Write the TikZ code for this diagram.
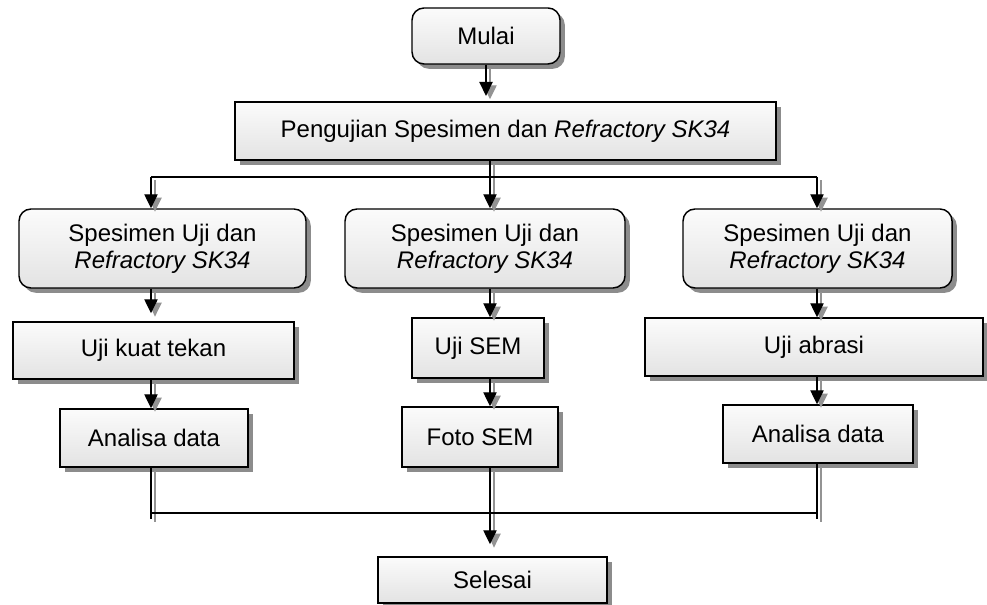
\documentclass[tikz,border=0pt]{standalone}
\usepackage{fontspec}
\setmainfont{Liberation Sans}
\usetikzlibrary{arrows.meta,shadows,calc}
\begin{document}
\begin{tikzpicture}[x=0.75pt,y=-0.75pt,
  box/.style={draw=black, line width=1.1pt, top color=gray!3, bottom color=gray!22,
    drop shadow={shadow xshift=3.6pt, shadow yshift=-3.6pt, fill=gray!90, opacity=1},
    align=center, inner sep=0pt, font=\fontsize{18}{20.5}\selectfont},
  rbox/.style={box, rounded corners=9pt},
  link/.style={line width=1pt, draw=black},
  flat/.style={link},
  rail/.style={link},
  flow/.style={link, -{Triangle[length=10.5pt,width=10pt]}}
]
\useasboundingbox (0,0) rectangle (987,605);

% boxes
\node[rbox, minimum width=111pt, minimum height=42pt] (mulai) at (486,36) {Mulai};
\node[box, minimum width=405.75pt, minimum height=43.5pt] (peng) at (505.5,131) {Pengujian Spesimen dan \textit{Refractory SK34}};

\node[rbox, minimum width=215.25pt, minimum height=59.25pt] (s1) at (162.5,248.5) {Spesimen Uji dan\\\textit{Refractory SK34}};
\node[rbox, minimum width=210pt, minimum height=59.25pt] (s2) at (485,248.5) {Spesimen Uji dan\\\textit{Refractory SK34}};
\node[rbox, minimum width=201.75pt, minimum height=59.25pt] (s3) at (817.5,248.5) {Spesimen Uji dan\\\textit{Refractory SK34}};

\node[box, minimum width=210.75pt, minimum height=42.75pt] (kuat) at (153.5,350.5) {Uji kuat tekan};
\node[box, minimum width=99pt, minimum height=45pt] (sem) at (478,348) {Uji SEM};
\node[box, minimum width=253.5pt, minimum height=43.5pt] (abrasi) at (814,347) {Uji abrasi};

\node[box, minimum width=141pt, minimum height=43.5pt] (ana1) at (154,438) {Analisa data};
\node[box, minimum width=117pt, minimum height=45pt] (foto) at (480,437) {Foto SEM};
\node[box, minimum width=142.5pt, minimum height=43.5pt] (ana2) at (818,434) {Analisa data};

\node[box, minimum width=171.75pt, minimum height=34.5pt] (selesai) at (492.5,580) {Selesai};

% junction points
\coordinate (cL) at (151,177);
\coordinate (cM) at (490,177);
\coordinate (cR) at (817,177);
\coordinate (bL) at (151,513);
\coordinate (bM) at (490,513);
\coordinate (bR) at (817,513);

% all connectors, drawn once as a grey shadow and once in black
\newcommand\flowlinks{%
  \draw[flow, shorten >=4pt] (mulai.south) -- (peng.north -| mulai.south);
  \draw[rail] (peng.south -| cM) -- (cM);
  \draw[flat] (cL) -- (cR);
  \draw[flow] (cL) -- (s1.north -| cL);
  \draw[flow] (cM) -- (s2.north -| cM);
  \draw[flow] (cR) -- (s3.north -| cR);
  \draw[flow, shorten >=6pt] (s1.south -| cL) -- (kuat.north -| cL);
  \draw[flow] (kuat.south -| cL) -- (ana1.north -| cL);
  \draw[flow] (s2.south -| cM) -- (sem.north -| cM);
  \draw[flow] (sem.south -| cM) -- (foto.north -| cM);
  \draw[flow] (s3.south -| cR) -- (abrasi.north -| cR);
  \draw[flow] (abrasi.south -| cR) -- (ana2.north -| cR);
  \draw[rail] (ana1.south -| bL) -- ($(bL)+(0,6)$);
  \draw[rail] (ana2.south -| bR) -- ($(bR)+(0,6)$);
  \draw[flat] (bL) -- (bR);
  \draw[flow, shorten >=9pt] (foto.south -| bM) -- (selesai.north -| bM);
}
\begin{scope}[transform canvas={xshift=3pt,yshift=-2.5pt},
    link/.append style={draw=gray!85}, flat/.style={draw=none}]
  \flowlinks
\end{scope}
\flowlinks
\end{tikzpicture}
\end{document}
